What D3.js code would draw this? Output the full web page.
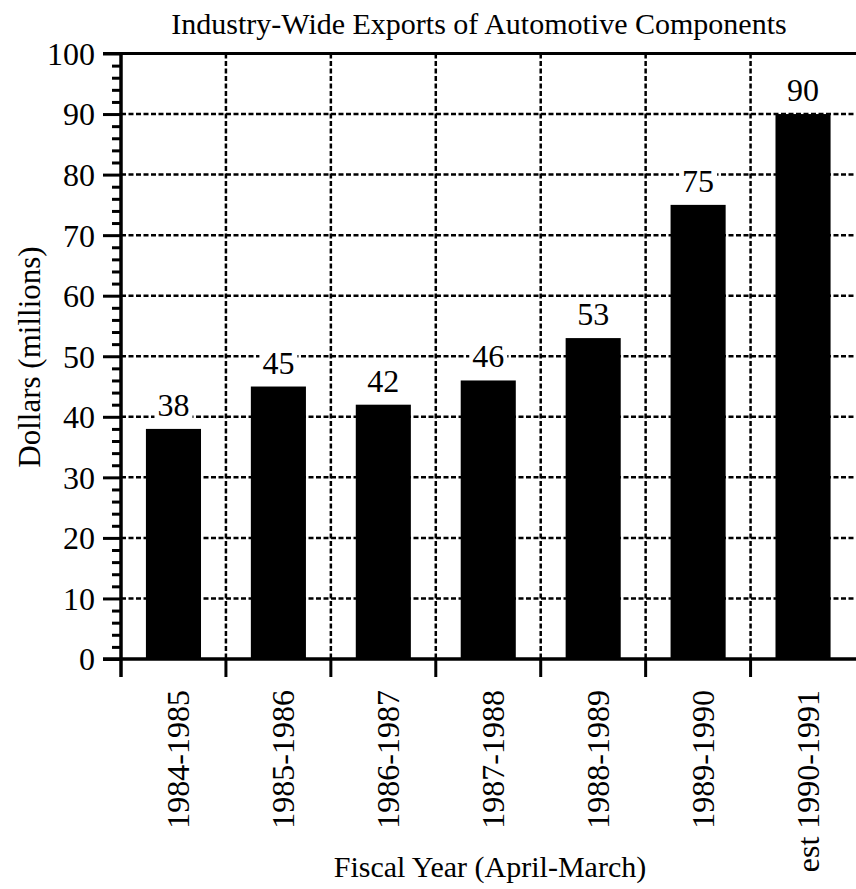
<!DOCTYPE html>
<html>
<head>
<meta charset="utf-8">
<script src="https://cdn.jsdelivr.net/npm/d3@7"></script>
<style>
  html, body { margin: 0; padding: 0; background: #fff; }
  svg { display: block; }
  svg text { font-family: "Liberation Serif", "Times New Roman", Times, serif !important; fill: #000; }
</style>
</head>
<body>
<svg id="chart" width="856" height="889"></svg>
<script>
// Fiscal years (April-March) and industry-wide exports, millions of dollars
const categories = ["1984-1985", "1985-1986", "1986-1987", "1987-1988", "1988-1989", "1989-1990", "est 1990-1991"];
const exportsMillions = [38, 45, 42, 46, 53, 75, 90];
const majorTicks = [0, 10, 20, 30, 40, 50, 60, 70, 80, 90, 100];
const minorTicks = [2, 4, 6, 8, 12, 14, 16, 18, 22, 24, 26, 28, 32, 34, 36, 38, 42, 44, 46, 48,
                    52, 54, 56, 58, 62, 64, 66, 68, 72, 74, 76, 78, 82, 84, 86, 88, 92, 94, 96, 98];

const titleText = "Industry-Wide Exports of Automotive Components";
const yTitle = "Dollars (millions)";
const xTitle = "Fiscal Year (April-March)";

const svg = d3.select("#chart");
const plotLeft = 121, plotRight = 856, plotTop = 53.5, plotBottom = 659;

const y = d3.scaleLinear().domain([0, 100]).range([plotBottom, plotTop]);
const band = d3.scaleBand().domain(categories).range([plotLeft, 855.5]).padding(0);
const bar = d3.scaleBand().domain(categories).range([plotLeft, 855.5])
  .paddingInner(0.475).paddingOuter(0.2375);

// dashed horizontal grid at each major value
svg.append("g").selectAll("line").data(majorTicks.filter(v => v > 0 && v < 100)).join("line")
  .attr("x1", plotLeft).attr("x2", plotRight)
  .attr("y1", d => y(d)).attr("y2", d => y(d))
  .attr("stroke", "#000").attr("stroke-width", 2.5).attr("stroke-dasharray", "5,2.5");

// dashed vertical grid at category boundaries
const bounds = categories.slice(1).map(c => band(c));
svg.append("g").selectAll("line").data(bounds).join("line")
  .attr("x1", d => d).attr("x2", d => d)
  .attr("y1", plotTop).attr("y2", plotBottom)
  .attr("stroke", "#000").attr("stroke-width", 2.5).attr("stroke-dasharray", "5,2.5");

// bars
svg.append("g").selectAll("rect").data(exportsMillions).join("rect")
  .attr("x", (d, i) => bar(categories[i]))
  .attr("width", bar.bandwidth())
  .attr("y", d => y(d))
  .attr("height", d => y(0) - y(d))
  .attr("fill", "#000");

// value labels on a white patch over the grid
const labels = svg.append("g").selectAll("g").data(exportsMillions).join("g");
labels.append("rect").attr("fill", "#fff");
labels.append("text")
  .attr("x", (d, i) => bar(categories[i]) + bar.bandwidth() / 2)
  .attr("y", d => y(d) - 13)
  .attr("text-anchor", "middle")
  .attr("font-size", 32)
  .text(d => d);
labels.each(function() {
  const t = d3.select(this).select("text").node().getBBox();
  d3.select(this).select("rect")
    .attr("x", t.x - 3).attr("y", t.y + 3)
    .attr("width", t.width + 6).attr("height", t.height - 6);
});

// y axis: major ticks with labels, minor ticks
const yMajor = svg.append("g").attr("transform", `translate(${plotLeft},0)`)
  .call(d3.axisLeft(y).tickValues(majorTicks).tickSize(18).tickPadding(8).tickFormat(d3.format("d")));
yMajor.select(".domain").remove();
yMajor.selectAll(".tick line").attr("stroke-width", 3);
yMajor.selectAll(".tick text").attr("font-size", 32).attr("dy", "0.34em");

const yMinor = svg.append("g").attr("transform", `translate(${plotLeft},0)`)
  .call(d3.axisLeft(y).tickValues(minorTicks).tickSize(9).tickFormat(""));
yMinor.select(".domain").remove();
yMinor.selectAll(".tick line").attr("stroke-width", 3);

// frame lines: top, baseline, y axis
svg.append("line").attr("x1", 103).attr("x2", plotRight).attr("y1", y(100)).attr("y2", y(100))
  .attr("stroke", "#000").attr("stroke-width", 3);
svg.append("line").attr("x1", 103).attr("x2", plotRight).attr("y1", y(0)).attr("y2", y(0))
  .attr("stroke", "#000").attr("stroke-width", 3.5);
svg.append("line").attr("x1", plotLeft).attr("x2", plotLeft).attr("y1", y(100) - 1.5).attr("y2", 677)
  .attr("stroke", "#000").attr("stroke-width", 3.5);

// x axis boundary ticks below the baseline
svg.append("g").selectAll("line").data(bounds).join("line")
  .attr("x1", d => d).attr("x2", d => d)
  .attr("y1", plotBottom).attr("y2", 677)
  .attr("stroke", "#000").attr("stroke-width", 3);

// rotated category labels
const xAxis = svg.append("g").attr("transform", `translate(0,${plotBottom})`)
  .call(d3.axisBottom(band).tickSize(0).tickPadding(0));
xAxis.select(".domain").remove();
xAxis.selectAll(".tick text")
  .attr("font-size", 32)
  .attr("text-anchor", "end")
  .attr("transform", "rotate(-90)")
  .attr("x", -31).attr("y", 0).attr("dy", "0.5em");

// titles
svg.append("text").attr("x", 479).attr("y", 34).attr("text-anchor", "middle")
  .attr("font-size", 30).text(titleText);
svg.append("text").attr("transform", "translate(40,357) rotate(-90)").attr("text-anchor", "middle")
  .attr("font-size", 31).text(yTitle);
svg.append("text").attr("x", 490).attr("y", 877).attr("text-anchor", "middle")
  .attr("font-size", 30).text(xTitle);
</script>
</body>
</html>
